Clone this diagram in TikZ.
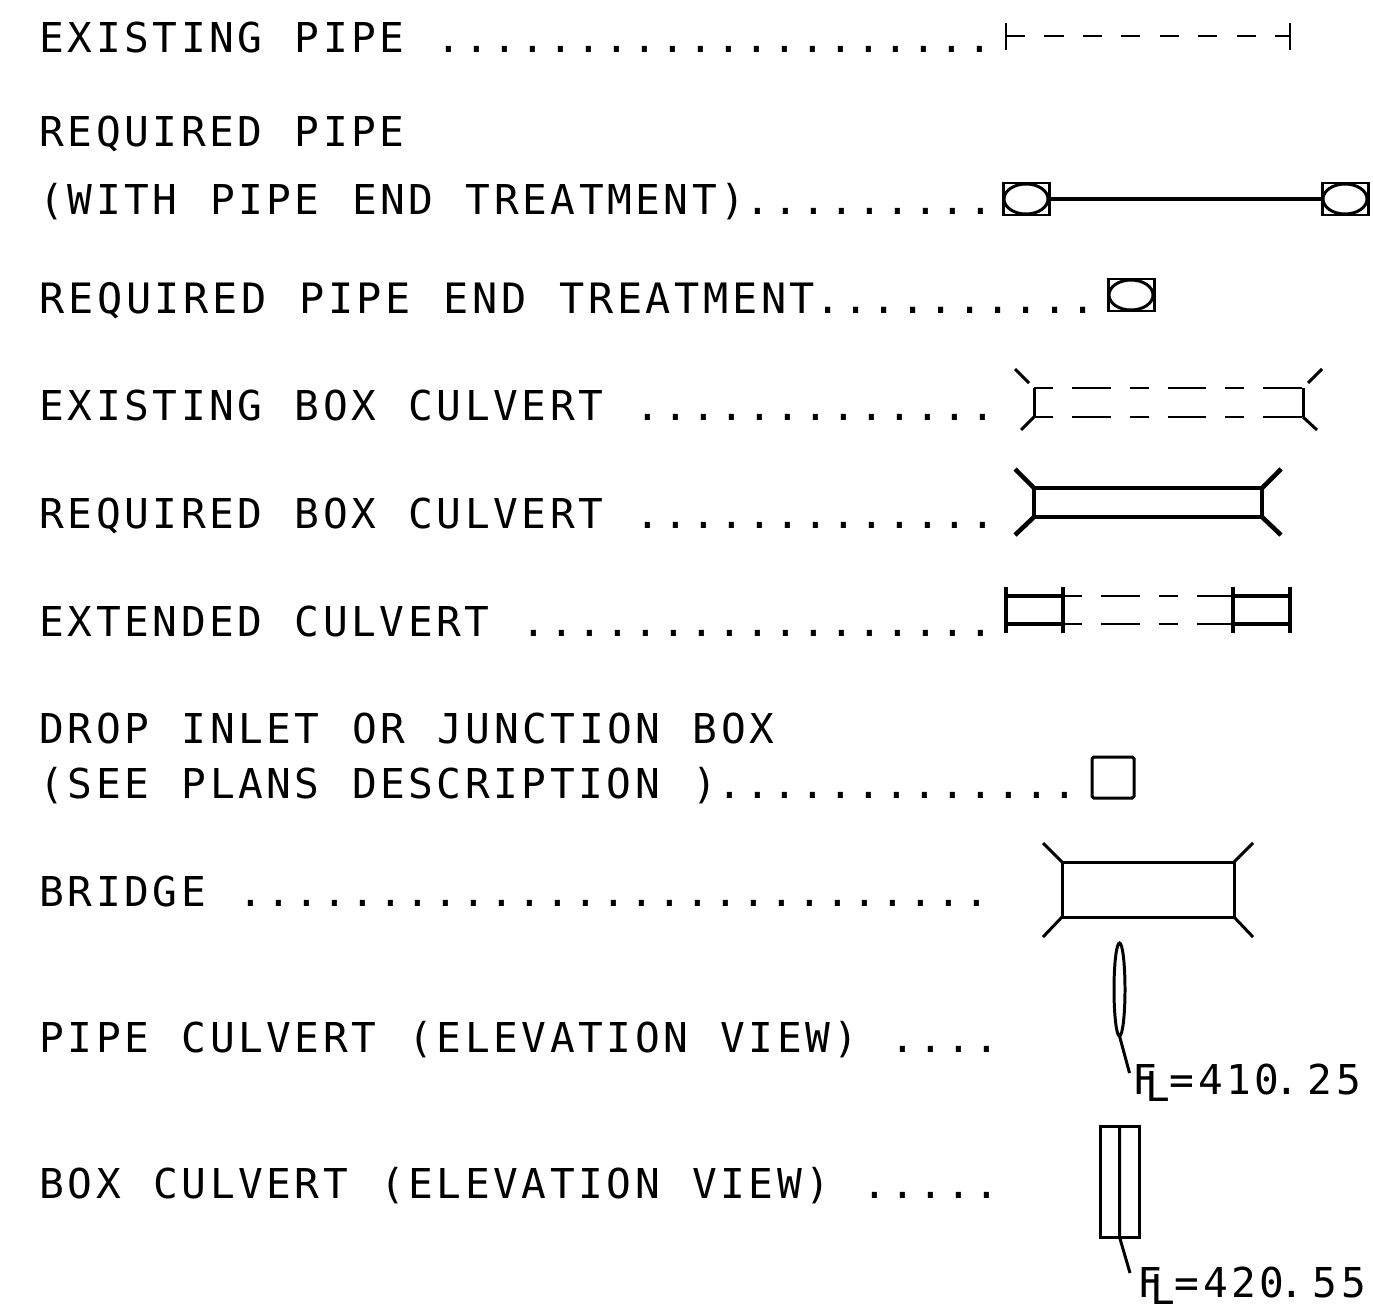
\documentclass[tikz,border=0pt]{standalone}
\usepackage{fontspec}
\setmonofont[LetterSpace=8.6,WordSpace=1.143]{DejaVu Sans Mono}
\newfontfamily\dotfont[LetterSpace=7.7]{DejaVu Sans Mono}
\usepackage{tikz}
\usetikzlibrary{calc}
\tikzset{
  legend/.style={anchor=base west, inner sep=0pt, font=\fontsize{11.7pt}{15pt}\ttfamily},
  legendwide/.style={legend, font=\fontsize{11.9pt}{15pt}\ttfamily},
  thin line/.style={draw=black, line width=0.55pt},
  mid line/.style={draw=black, line width=0.85pt},
  thick line/.style={draw=black, line width=1.3pt},
  pipedash/.style={thin line, dash pattern=on 0.192cm off 0.192cm},
  boxdash/.style={thin line, dash pattern=on 0.19cm off 0.19cm on 0.385cm off 0.19cm}
}
% one pipe end treatment, a box round an oval
\newcommand{\pipeend}[1]{%
  \fill[white] ($(#1)+(-23,-16)$) rectangle ($(#1)+(23,16)$);
  \draw[mid line] ($(#1)+(-23,-16)$) rectangle ($(#1)+(23,16)$);
  \draw[mid line] (#1) ellipse (0.22cm and 0.15cm);
}
\begin{document}
\begin{tikzpicture}[x=0.01cm, y=-0.01cm]
  \useasboundingbox (0,0) rectangle (1373,1315);

  % Legend texts
  \node[legend] (existpipe) at (39,52) {EXISTING PIPE {\dotfont....................}};
  \node[legend] (reqpipea) at (39,146) {REQUIRED PIPE};
  \node[legend] (reqpipeb) at (39,214) {(WITH PIPE END TREATMENT){\dotfont.........}};
  \node[legendwide] (reqend) at (39,313) {REQUIRED PIPE END TREATMENT{\dotfont..........}};
  \node[legend] (existbox) at (39,420) {EXISTING BOX CULVERT {\dotfont.............}};
  \node[legend] (reqbox) at (39,528) {REQUIRED BOX CULVERT {\dotfont.............}};
  \node[legend] (extbox) at (39,636) {EXTENDED CULVERT {\dotfont.................}};
  \node[legend] (dropa) at (39,743) {DROP INLET OR JUNCTION BOX};
  \node[legend] (dropb) at (39,798) {(SEE PLANS DESCRIPTION ){\dotfont.............}};
  \node[legend] (bridge) at (39,906) {BRIDGE {\dotfont...........................}};
  \node[legend] (pipeelev) at (39,1052) {PIPE CULVERT (ELEVATION VIEW) {\dotfont....}};
  \node[legend] (boxelev) at (39,1198) {BOX CULVERT (ELEVATION VIEW) {\dotfont.....}};

  % Existing pipe
  \coordinate (PA) at (1006,36);
  \coordinate (PB) at (1290,36);
  \draw[pipedash] (PA) -- (PB);
  \draw[thin line] (1006,23) -- (1006,49.5);
  \draw[thin line] (1290,23) -- (1290,49.5);

  % Required pipe
  \coordinate (RA) at (1026,199);
  \coordinate (RB) at (1345,199);
  \draw[thick line] (RA) -- (RB);
  \pipeend{RA}
  \pipeend{RB}

  % Required pipe end treatment
  \coordinate (RE) at (1131,295);
  \pipeend{RE}

  % Existing box culvert
  \draw[boxdash] (1034,388) -- (1303,388);
  \draw[boxdash] (1034,417) -- (1303,417);
  \draw[mid line] (1034,388) -- (1034,417);
  \draw[mid line] (1303,388) -- (1303,417);
  \draw[mid line] (1015,369) -- (1029,383);
  \draw[mid line] (1034,417) -- (1021,430);
  \draw[mid line] (1308,383) -- (1322,369);
  \draw[mid line] (1303,417) -- (1317,430);

  % Required box culvert
  \draw[thick line] (1034,488) rectangle (1262,517);
  \draw[thick line] (1034,488) -- (1015,469);
  \draw[thick line] (1034,517) -- (1015,535);
  \draw[thick line] (1262,488) -- (1281,469);
  \draw[thick line] (1262,517) -- (1281,535);

  % Extended culvert
  \draw[boxdash] (1063,596) -- (1233,596);
  \draw[boxdash] (1063,624) -- (1233,624);
  \foreach \x in {1006,1063,1233,1290}
    \draw[thick line] (\x,587) -- (\x,633);
  \foreach \y in {596,624} {
    \draw[thick line] (1006,\y) -- (1063,\y);
    \draw[thick line] (1233,\y) -- (1290,\y);
  }

  % Drop inlet
  \draw[mid line, rounded corners=0.5pt] (1092,757) rectangle (1134,798);

  % Bridge
  \draw[mid line] (1062,862) rectangle (1234,917);
  \draw[mid line] (1062,862) -- (1043,843);
  \draw[mid line] (1062,917) -- (1043,937);
  \draw[mid line] (1234,862) -- (1253,843);
  \draw[mid line] (1234,917) -- (1253,937);

  % Pipe culvert, elevation
  \coordinate (EP) at (1119.5,989.5);
  \draw[mid line] (EP) ellipse (0.055cm and 0.465cm);
  \coordinate (LA) at (1119.5,1036);
  \coordinate (LB) at (1129.5,1073);
  \draw[mid line] (LA) -- (LB);
  \node[legend] (levela) at (1132,1094) {F\kern-3.5pt\raisebox{-2pt}{L}=410\kern-1.5pt.\kern2.5pt25};

  % Box culvert, elevation
  \draw[mid line] (1100,1126) rectangle (1139,1237);
  \coordinate (BA) at (1119.5,1126);
  \coordinate (BB) at (1119.5,1237);
  \coordinate (BC) at (1130,1273);
  \draw[mid line] (BA) -- (BB) -- (BC);
  \node[legend] (levelb) at (1137,1297) {F\kern-3.5pt\raisebox{-2pt}{L}=420\kern-1.5pt.\kern2.5pt55};
\end{tikzpicture}
\end{document}
